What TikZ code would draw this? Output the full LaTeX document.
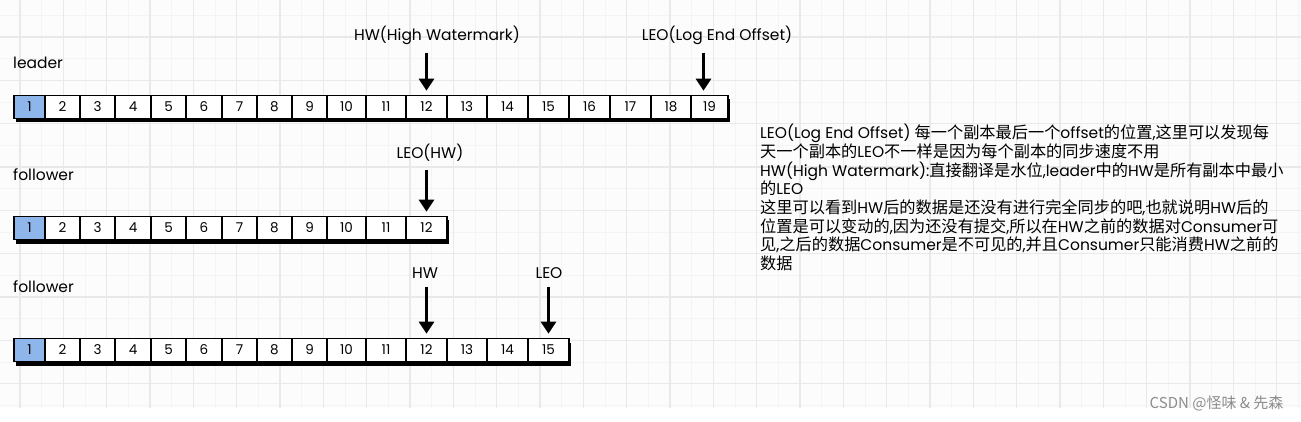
\documentclass[tikz,border=0pt]{standalone}
\usepackage{fontspec}
\setmainfont{Poppins}
\newfontfamily\cjk{Noto Sans CJK SC}
\usetikzlibrary{arrows.meta,shadows}
\definecolor{headblue}{RGB}{143,182,235}
\definecolor{gridmin}{RGB}{244,244,244}
\definecolor{gridmaj}{RGB}{233,233,233}
\def\zh#1{{\cjk\fontsize{16.2}{18.7}\selectfont #1}}
\def\logrow#1#2#3{% prefix, centre y, last cell
  \foreach \i/\l/\r in {1/14/45,2/45/80,3/80/115,4/115/151,5/151/186,6/186/222,7/222/257,8/257/292,9/292/327,10/327/366,11/366/406,12/406/447,13/447/487,14/487/528,15/528/569,16/569/610,17/610/651,18/651/691,19/691/728}{%
    \ifnum\i=1 \def\cellfill{headblue}\else\def\cellfill{white}\fi
    \ifnum\i>#3\else
      \node[cell,fill=\cellfill,minimum width={\r-\l}] (#1\i) at ({(\l+\r)/2},#2) {\i};
    \fi}}

\begin{document}
\begin{tikzpicture}[x=1pt,y=-1pt,
    cell/.style={draw,line width=1.7pt,minimum height=23pt,inner sep=0pt,
      font=\fontsize{13.5}{13.5}\selectfont,
      drop shadow={shadow xshift=2pt,shadow yshift=-4pt,opacity=1,fill=black}},
    ptr/.style={line width=3.2pt,-{Triangle[width=15pt,length=12pt]}},
    lbl/.style={font=\fontsize{15.5}{15.5}\selectfont,inner sep=2pt}]
		%%%%% START %%%%%
		\useasboundingbox (0,0) rectangle (1301,422);
		\fill[white] (0,0) rectangle (1301,422);
		\fill[black!1] (0,0) rectangle (1301,408);
		
		% grid
		\foreach \k in {0,...,60} \draw[gridmin,line width=0.8pt] ({21.667*\k-1.667},0) -- ({21.667*\k-1.667},408);
		\foreach \k in {1,...,19} \draw[gridmin,line width=0.8pt] (0,{21.667*\k-6.333}) -- (1301,{21.667*\k-6.333});
		\foreach \k in {0,...,29} \draw[gridmaj,line width=1.2pt] ({43.333*\k+20},0) -- ({43.333*\k+20},408);
		\foreach \k in {1,...,9} \draw[gridmaj,line width=1.2pt] (0,{43.333*\k-6.333}) -- (1301,{43.333*\k-6.333});
		
		% rows of offsets
		\node[lbl,anchor=west,inner sep=0pt] (leader) at (13,63) {leader};
		\logrow{l}{107}{19}
		
		\node[lbl,anchor=west,inner sep=0pt] (followera) at (13,175) {follower};
		\logrow{fa}{228}{12}
		
		\node[lbl,anchor=west,inner sep=0pt] (followerb) at (13,287) {follower};
		\logrow{fb}{350}{15}
		
		% markers
		\node[lbl] (hwl) at (437,35) {HW(High Watermark)};
		\node[lbl] (leol) at (717,35) {LEO(Log End Offset)};
		\coordinate (leotip) at ([xshift=-6pt]l19.north);
		\draw[ptr,shorten <=6pt,shorten >=4pt] (hwl.south -| l12) -- (l12.north);
		\draw[ptr,shorten <=6pt,shorten >=4pt] (leol.south -| leotip) -- (leotip);
		
		\node[lbl] (leohw) at (430,153) {LEO(HW)};
		\draw[ptr,shorten <=6pt,shorten >=4pt] (leohw.south -| fa12) -- (fa12.north);
		
		\node[lbl] (hwb) at (425,273) {HW};
		\node[lbl] (leob) at (549,273) {LEO};
		\draw[ptr,shorten <=6pt,shorten >=4pt] (hwb.south -| fb12) -- (fb12.north);
		\draw[ptr,shorten <=6pt,shorten >=4pt] (leob.south -| fb15) -- (fb15.north);
		
		% notes
		\node[anchor=north west,inner sep=0pt,align=left,font=\fontsize{15.5}{18.7}\selectfont] (notes) at (760,124) {%
			LEO(Log End Offset) \zh{每一个副本最后一个}offset\zh{的位置},\zh{这里可以发现每}\\
			\zh{天一个副本的}LEO\zh{不一样是因为每个副本的同步速度不用}\\
			HW(High Watermark):\zh{直接翻译是水位},leader\zh{中的}HW\zh{是所有副本中最小}\\
			\zh{的}LEO\\
			\zh{这里可以看到}HW\zh{后的数据是还没有进行完全同步的吧},\zh{也就说明}HW\zh{后的}\\
			\zh{位置是可以变动的},\zh{因为还没有提交},\zh{所以在}HW\zh{之前的数据对}Consumer\zh{可}\\
			\zh{见},\zh{之后的数据}Consumer\zh{是不可见的},\zh{并且}Consumer\zh{只能消费}HW\zh{之前的}\\
			\zh{数据}};
		
		\node[anchor=east,text=black!45,font=\cjk\fontsize{15}{15}\selectfont] (mark) at (1287,403) {CSDN @怪味 \& 先森};
		%%%%% END %%%%%
\end{tikzpicture}
\end{document}
